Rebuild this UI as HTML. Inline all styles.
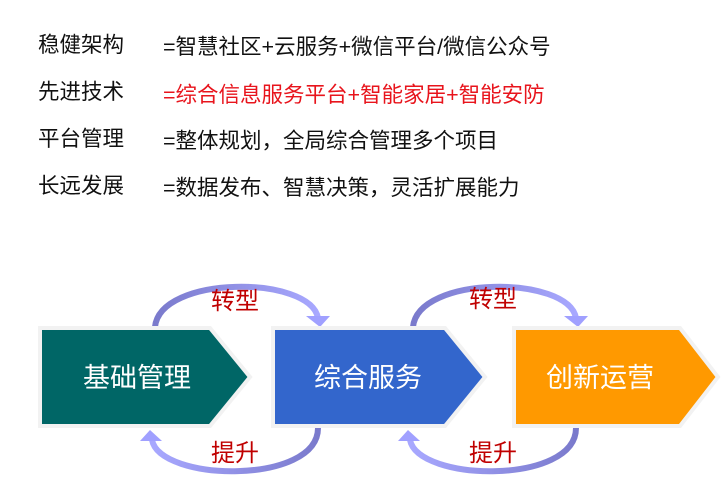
<!DOCTYPE html>
<html><head><meta charset="utf-8"><style>
body{margin:0;width:725px;height:482px;background:#fff;overflow:hidden;position:relative;font-family:"Liberation Sans","Noto Sans CJK SC",sans-serif}
.t{position:absolute;font-size:21.5px;color:#111;white-space:nowrap;line-height:24px}
</style></head><body>
<div class="t" style="left:38px;top:33px">稳健架构</div>
<div class="t" style="left:163px;top:35px">=智慧社区+云服务+微信平台/微信公众号</div>
<div class="t" style="left:38px;top:80px">先进技术</div>
<div class="t" style="left:163px;top:83px;color:#e8141c">=综合信息服务平台+智能家居+智能安防</div>
<div class="t" style="left:38px;top:127px">平台管理</div>
<div class="t" style="left:163px;top:129px">=整体规划，全局综合管理多个项目</div>
<div class="t" style="left:38px;top:174px">长远发展</div>
<div class="t" style="left:163px;top:176px">=数据发布、智慧决策，灵活扩展能力</div>
<svg width="725" height="482" style="position:absolute;left:0;top:0">
<defs>
<linearGradient id="g" x1="0" x2="1"><stop offset="0" stop-color="#7a7acc"/><stop offset="1" stop-color="#a8a8ff"/></linearGradient>
<linearGradient id="g2" x1="1" x2="0"><stop offset="0" stop-color="#7a7acc"/><stop offset="1" stop-color="#a8a8ff"/></linearGradient>
</defs>
<g fill="none" stroke-width="6">
<path d="M155 327 C160 275 310 275 318 318" stroke="url(#g)"/>
<path d="M318 428 C318 485 160 482 152 440" stroke="url(#g2)"/>
<path d="M413 327 C418 275 568 275 576 318" stroke="url(#g)"/>
<path d="M576 428 C576 485 418 482 410 440" stroke="url(#g2)"/>
</g>
<g fill="#a0a0ff">
<polygon points="306,316 330,316 320,327"/>
<polygon points="140,441 162,441 150,430"/>
<polygon points="564,316 588,316 578,327"/>
<polygon points="398,441 420,441 408,430"/>
</g>
<g stroke="#f2f2f2" stroke-width="4">
<polygon points="40,328 210,328 250,377 210,426 40,426" fill="#006666"/>
<polygon points="273,328 445,328 485,377 445,426 273,426" fill="#3366cc"/>
<polygon points="514,328 680,328 718,377 680,426 514,426" fill="#ff9900"/>
</g>
<g fill="#fff" font-size="27" font-family="Liberation Sans,Noto Sans CJK SC,sans-serif" text-anchor="middle">
<text x="137" y="387">基础管理</text>
<text x="368" y="387">综合服务</text>
<text x="600" y="387">创新运营</text>
</g>
<g fill="#c00000" font-size="24" font-family="Liberation Sans,Noto Sans CJK SC,sans-serif" text-anchor="middle">
<text x="235" y="309">转型</text>
<text x="235" y="461">提升</text>
<text x="493" y="307">转型</text>
<text x="493" y="461">提升</text>
</g>
</svg>
</body></html>
